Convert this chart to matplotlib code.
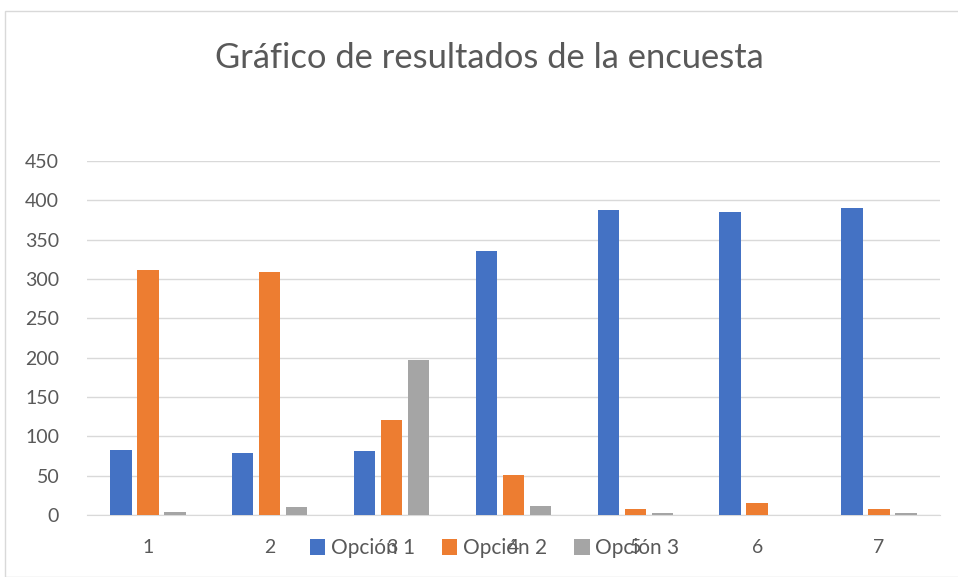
import matplotlib.pyplot as plt
import numpy as np
from matplotlib.patches import Rectangle

plt.rcParams['font.family'] = ['Lato', 'DejaVu Sans']

categories = ['1', '2', '3', '4', '5', '6', '7']
opcion1 = [83, 79, 81, 336, 388, 385, 390]
opcion2 = [312, 309, 121, 51, 8, 15, 7]
opcion3 = [4, 10, 197, 12, 2.5, 0, 2.5]

series = [('Opción 1', opcion1, '#4472c4'),
          ('Opción 2', opcion2, '#ed7d31'),
          ('Opción 3', opcion3, '#a5a5a5')]

fig = plt.figure(figsize=(9.58, 5.77), dpi=100)
ax = fig.add_axes([0.0908, 0.1075, 0.8903, 0.6135])

x = np.arange(len(categories))
step = 0.222
width = 0.175
for i, (name, vals, color) in enumerate(series):
    ax.bar(x + (i - 1) * step, vals, width, color=color, label=name, zorder=3)

ax.set_xlim(-0.5, len(categories) - 0.5)
ax.set_ylim(0, 450)
ax.set_yticks(range(0, 451, 50))
ax.set_xticks(x)
ax.set_xticklabels(categories)
ax.grid(axis='y', color='#d9d9d9', linewidth=1, zorder=0)
for s in ['top', 'right', 'left']:
    ax.spines[s].set_visible(False)
ax.spines['bottom'].set_color('#d9d9d9')
ax.tick_params(length=0, labelsize=14, colors='#595959')
ax.tick_params(axis='x', pad=17)
ax.tick_params(axis='y', pad=20)

fig.text(0.511, 0.90, 'Gráfico de resultados de la encuesta', ha='center', va='center',
         fontsize=24.8, color='#595959')

fig.legend(loc='center', bbox_to_anchor=(0.516, 0.05), ncol=3, frameon=False,
           fontsize=15, labelcolor='#595959', handlelength=0.75, handleheight=0.75,
           handletextpad=0.25, columnspacing=1.3)

fig.patches.append(Rectangle((5 / 958, 0), 1.1, 1 - 11 / 577, transform=fig.transFigure,
                             fill=False, edgecolor='#d9d9d9', linewidth=1))

fig.savefig('out.png')
